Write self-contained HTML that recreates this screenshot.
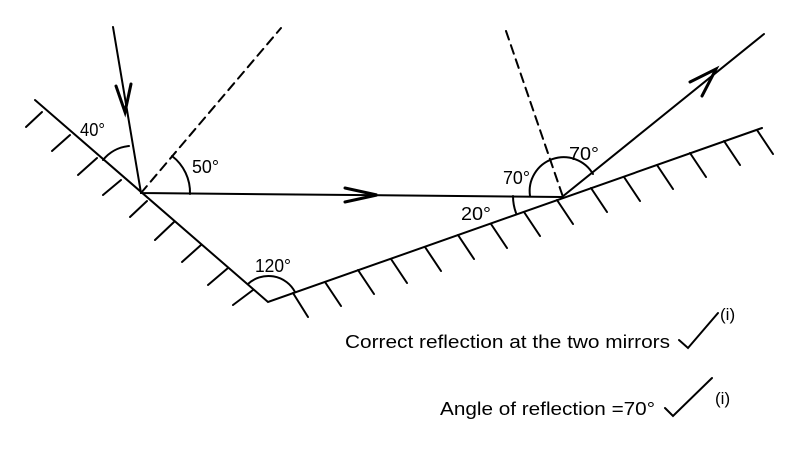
<!DOCTYPE html>
<html><head><style>body{margin:0;background:#fff}svg{display:block}</style></head><body>
<svg width="792" height="453" viewBox="0 0 792 453" xmlns="http://www.w3.org/2000/svg" font-family="Liberation Sans, Arial, sans-serif">
<g stroke="#000" stroke-width="2" fill="none" stroke-linecap="round">
<path d="M35 100 L268 302 L762 128"/>
<path d="M42 112l-16 15M70 135l-18 16M97 158l-19 17M121 180l-18 15M147 201l-17 16M174 222l-19 18M201 245l-19 17M228 268l-20 17M253 290l-20 15"/>
<path d="M293 293l15 24M325 282l16 24M358 270l16 24M391 259l16 24M425 247l16 24M458 235l16 24M491 224l16 24M524 212l16 24M557 200l16 24M591 188l16 24M624 177l16 24M657 165l16 24M690 153l16 24M724 141l16 24M757 130l16 24"/>
<path d="M113 27L141 193L562 197L764 34"/>
<path d="M116 86L125 112L131 84" stroke-width="3"/>
<path d="M345 188L377 195L345 202" stroke-width="3"/>
<path d="M690 82L716 69L702 96" stroke-width="3"/>
<path d="M141 193L281 28M506 31L563 197" stroke-dasharray="9,6"/>
<path d="M103 160A38 38 0 0 1 129 146"/>
<path d="M172 156A46 46 0 0 1 190 194"/>
<path d="M248 284A30 30 0 0 1 295 292"/>
<path d="M513 196A50 50 0 0 0 516 213"/>
<path d="M530 196A34 34 0 0 1 593 174"/>
<path d="M679 340L688 348L718 313M665 408L673 416L712 378"/>
</g>
<g font-size="18" fill="#000">
<text x="80" y="136" textLength="25" lengthAdjust="spacingAndGlyphs">40°</text>
<text x="192" y="173" textLength="27" lengthAdjust="spacingAndGlyphs">50°</text>
<text x="255" y="272" textLength="36" lengthAdjust="spacingAndGlyphs">120°</text>
<text x="503" y="184" textLength="27" lengthAdjust="spacingAndGlyphs">70°</text>
<text x="569" y="160" textLength="30" lengthAdjust="spacingAndGlyphs">70°</text>
<text x="461" y="220" textLength="30" lengthAdjust="spacingAndGlyphs">20°</text>
<text x="345" y="348" textLength="325" lengthAdjust="spacingAndGlyphs">Correct reflection at the two mirrors</text>
<text x="440" y="415" textLength="215" lengthAdjust="spacingAndGlyphs">Angle of reflection =70°</text>
<text x="720" y="320" font-size="17">(i)</text>
<text x="715" y="404" font-size="17">(i)</text>
</g>
</svg>
</body></html>
